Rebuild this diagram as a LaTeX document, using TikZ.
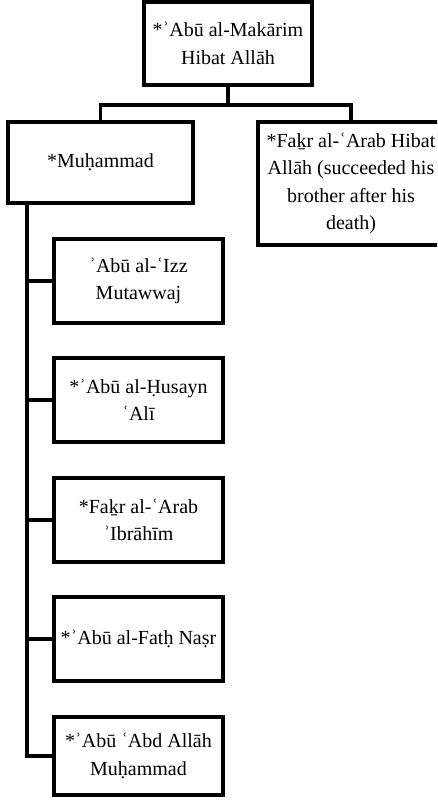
\documentclass[tikz,border=0pt]{standalone}
\usepackage{fontspec}
\setmainfont{Liberation Serif}
\newlength\pxu
\setlength\pxu{0.75pt}
\begin{document}
\begin{tikzpicture}[x=0.75pt,y=-0.75pt,
  famBox/.style={draw, line width=2.4pt, align=center, inner sep=0pt,
    font=\fontsize{15}{20.6}\selectfont},
  childBox/.style={famBox, minimum width=169\pxu, minimum height=84\pxu},
  link/.style={line width=2.3pt}]
\useasboundingbox (0,0) rectangle (437,801);
\clip (0,0) rectangle (437,801);
\fill[white] (0,0) rectangle (437,801);

\node[famBox, minimum width=168\pxu, minimum height=83\pxu] (top) at (228,43.5)
  {*ʾAbū al-Makārim\\Hibat Allāh};
\node[famBox, minimum width=185\pxu, minimum height=81\pxu] (muh) at (100.5,162.5)
  {*Muḥammad};
\node[famBox, minimum width=186\pxu, minimum height=123\pxu] (fakr) at (351,183.5)
  {*Faḵr al-ʿArab Hibat\\Allāh (succeeded his\\brother after his\\death)};

\node[childBox] (c1) at (138.5,281) {ʾAbū al-ʿIzz\\Mutawwaj};
\node[childBox] (c2) at (138.5,400) {*ʾAbū al-Ḥusayn\\ʿAlī};
\node[childBox] (c3) at (138.5,520) {*Faḵr al-ʿArab\\ʾIbrāhīm};
\node[childBox] (c4) at (138.5,639) {*ʾAbū al-Fatḥ Naṣr};
\node[childBox, minimum height=78\pxu] (c5) at (138.5,756) {*ʾAbū ʿAbd Allāh\\Muḥammad};

\coordinate (bus) at (228,105);
\coordinate (spine) at (27,203);
\draw[link] (top.south) -- (bus);
\draw[link] (bus) -| (muh.north);
\draw[link] (bus) -| (fakr.north);
\draw[link] (spine) |- (c5.west);
\draw[link] (spine) |- (c1.west);
\draw[link] (spine) |- (c2.west);
\draw[link] (spine) |- (c3.west);
\draw[link] (spine) |- (c4.west);
\end{tikzpicture}
\end{document}
